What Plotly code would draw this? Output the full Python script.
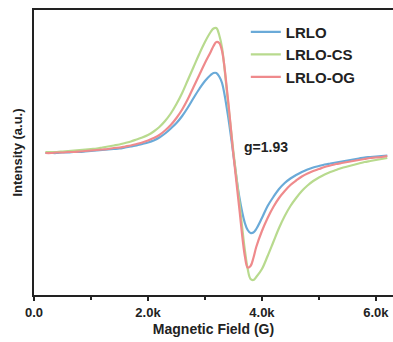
import plotly.graph_objects as go

field = [200, 300, 400, 500, 600, 700, 800, 900, 1000, 1100,
         1200, 1300, 1400, 1500, 1600, 1700, 1800, 1900, 2000, 2100,
         2200, 2300, 2400, 2500, 2600, 2700, 2800, 2900, 3000, 3100,
         3150, 3200, 3250, 3300, 3400, 3500, 3600, 3700, 3750, 3800,
         3850, 3900, 4000, 4100,
         4200, 4300, 4400, 4500, 4600, 4700, 4800, 4900, 5000, 5100,
         5200, 5300, 5400, 5500, 5600, 5700, 5800, 5900, 6000, 6100,
         6200]

lrlo = [-1, -1, -1, -0.5, -0.5, 0, 0, 0.5, 1, 1.5,
        2, 2.5, 3, 3.5, 4.5, 5.5, 6.5, 8, 9.5, 11.5,
        14.5, 18.5, 23.5, 29, 36, 44.5, 54, 63, 71, 77,
        79, 79, 75.5, 69, 38, -3, -44, -71, -78, -81,
        -80.5, -77, -66, -54,
        -45, -37, -31, -26.5, -23, -20, -17.5, -15.5, -14, -12.5,
        -11.5, -10.5, -9.5, -8.5, -7.5, -6.5, -5.5, -5, -4.5, -4,
        -3.5]

lrlo_cs = [0, 0, 0, 0.5, 1, 1.5, 2, 2.5, 3, 3.5,
           4.5, 5.5, 6.5, 7.5, 9, 10.5, 12.5, 14.5, 17, 20.5,
           25, 31, 38.5, 48, 59, 72, 85, 98, 110, 120,
           123.5, 124, 117, 104, 52, 0, -48, -98, -117, -127,
           -128, -125, -117, -104,
           -90, -76, -64, -54, -46, -39, -33.5, -29, -25.5, -22.5,
           -20, -18, -16, -14.5, -13, -11.5, -10, -9, -8, -7,
           -6]

lrlo_og = [-1, -1, -0.5, -0.5, 0, 0, 0.5, 1, 1.5, 2,
           2.5, 3, 4, 4.5, 5.5, 6.5, 8, 9.5, 11.5, 14,
           17, 21.5, 27, 34, 42.5, 53, 65, 77, 89, 100,
           106, 110, 109, 101, 55, -3, -55, -104, -115.5, -114,
           -106, -95, -79, -66,
           -55, -46, -39, -33, -28.5, -24.5, -21.5, -19, -17, -15,
           -13.5, -12, -11, -10, -9, -8, -7, -6, -5.5, -5,
           -4]

names = ["LRLO", "LRLO-CS", "LRLO-OG"]
colors = ["#6aaad8", "#b8da8e", "#ef8a8c"]
series = [lrlo, lrlo_cs, lrlo_og]

tick_vals = [0, 2000, 4000, 6000]
tick_text = ["0.0", "2.0k", "4.0k", "6.0k"]

font_family = "Liberation Sans, Arial, sans-serif"

fig = go.Figure()
for n, c, s in zip(names, colors, series):
    fig.add_trace(go.Scatter(x=field, y=s, mode="lines", name="<b>%s</b>" % n,
                             line=dict(color=c, width=2.2, shape="spline", smoothing=1.0)))

fig.add_annotation(x=4070, y=5, text="<b>g=1.93</b>", showarrow=False,
                   font=dict(size=14, color="#222", family=font_family))

fig.update_layout(
    width=393, height=342,
    margin=dict(l=34, r=0, t=10, b=47),
    plot_bgcolor="white", paper_bgcolor="white",
    font=dict(family=font_family, color="#222"),
    showlegend=True,
    legend=dict(x=0.59, y=0.98, xanchor="left", yanchor="top",
                bgcolor="rgba(0,0,0,0)", font=dict(size=15, color="#222"),
                tracegroupgap=0, itemwidth=30),
    xaxis=dict(range=[0, 6300], tickvals=tick_vals, ticktext=["<b>%s</b>" % t for t in tick_text],
               ticks="outside", ticklen=4, tickwidth=2, tickcolor="#222",
               minor=dict(tickvals=[1000, 3000, 5000], ticks="outside", ticklen=3, tickwidth=2, tickcolor="#222"),
               showline=True, linewidth=2, linecolor="#222", mirror=True,
               showgrid=False, zeroline=False,
               tickfont=dict(size=13, color="#222"),
               title=dict(text="<b>Magnetic Field (G)</b>", font=dict(size=14, color="#222"), standoff=6)),
    yaxis=dict(range=[-143, 142], showticklabels=False, ticks="",
               showline=True, linewidth=2, linecolor="#222", mirror=False,
               showgrid=False, zeroline=False,
               title=dict(text="<b>Intensity (a.u.)</b>", font=dict(size=13, color="#222"), standoff=6)),
)

fig.write_html("out.html")
